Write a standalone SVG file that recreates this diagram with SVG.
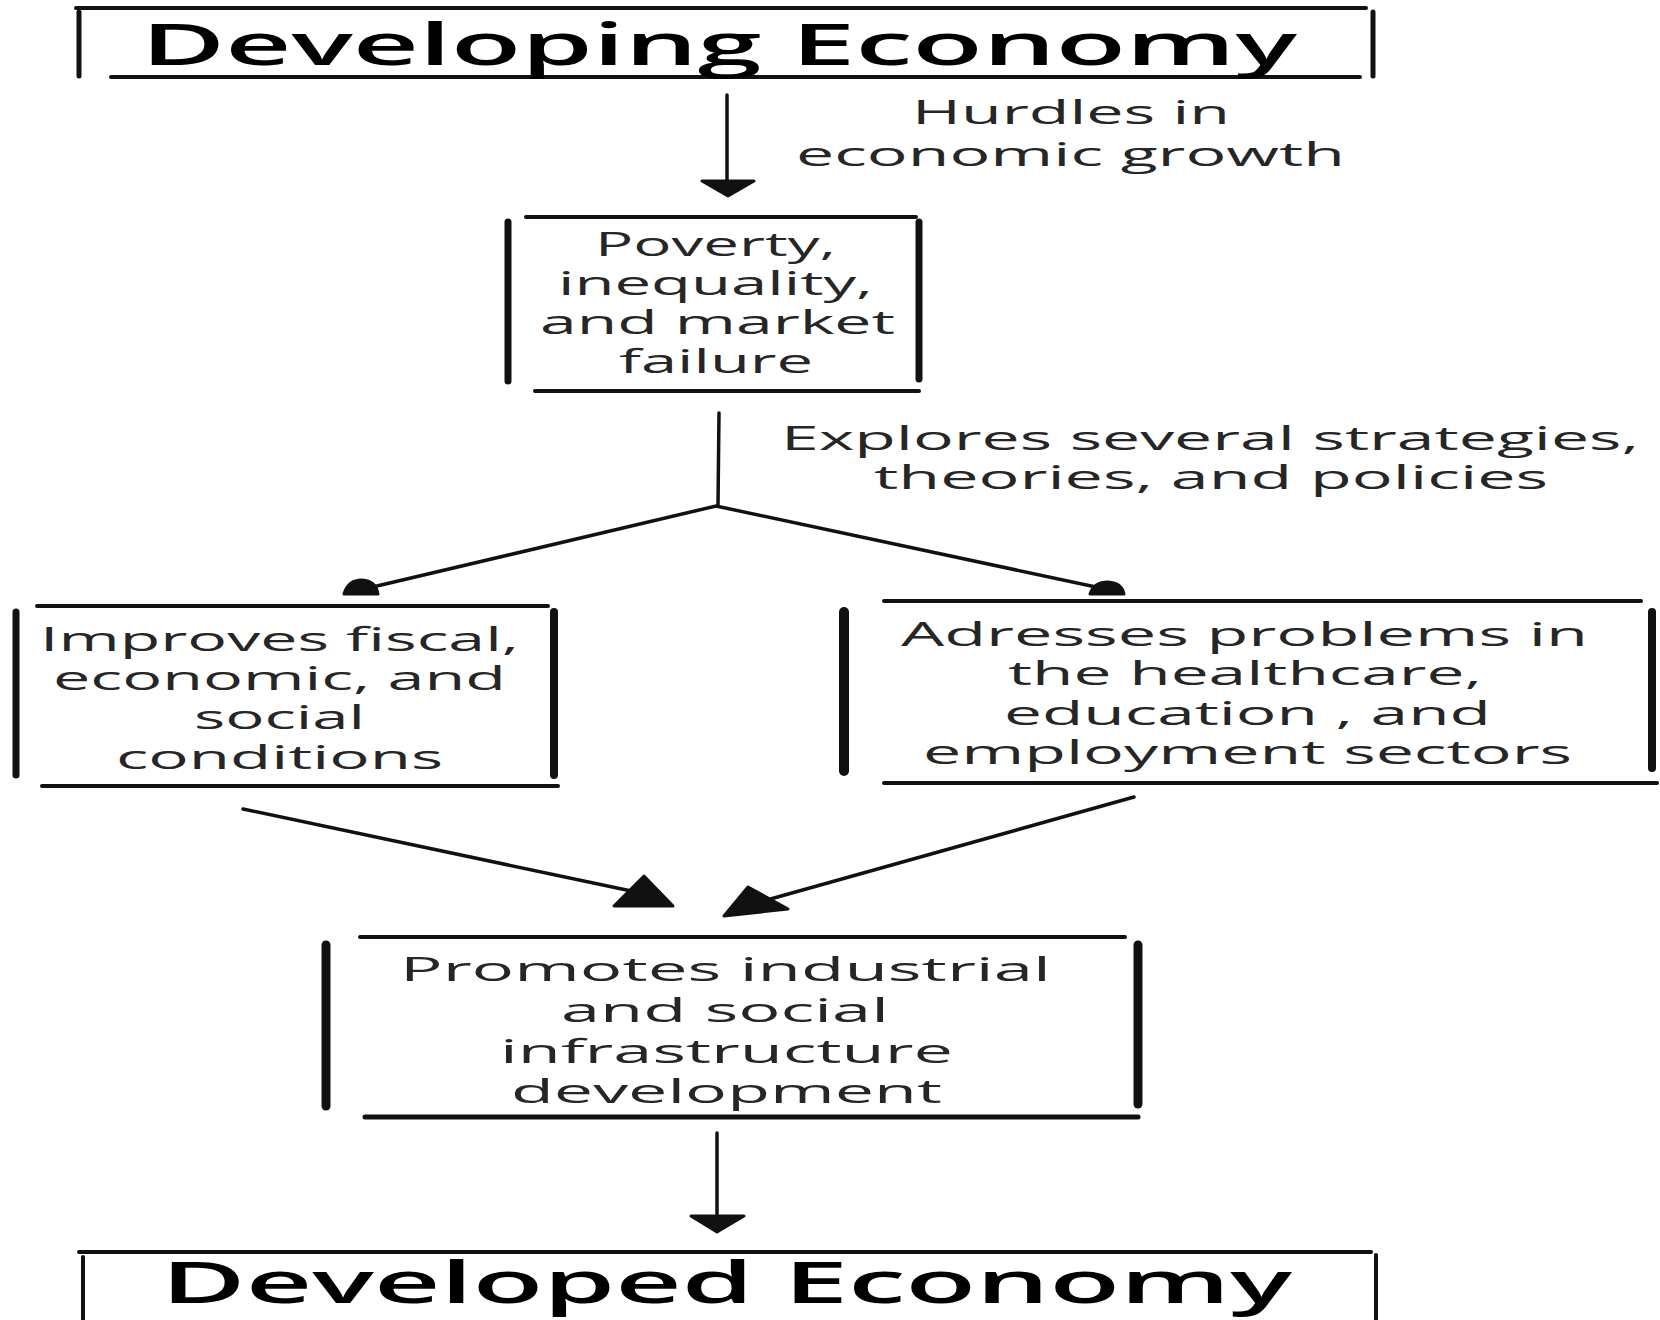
<svg xmlns="http://www.w3.org/2000/svg" width="1660" height="1320" viewBox="0 0 1660 1320">
<defs>
<style>
.h{stroke:#111;stroke-width:4;stroke-linecap:round;fill:none}
.v{stroke:#111;stroke-width:7;stroke-linecap:round;fill:none}
.c{stroke:#111;stroke-width:3.5;fill:none;stroke-linecap:round}
.t{font-family:"Open Sans","Liberation Sans",sans-serif;fill:#262626;font-size:33px;text-anchor:start}
.title{font-family:"Open Sans","Liberation Sans",sans-serif;fill:#000;font-size:57px;font-weight:600}
.hd{fill:#111;stroke:#111;stroke-width:3;stroke-linejoin:round}
</style>
</defs>
<rect width="1660" height="1320" fill="#fff"/>
<g id="connectors">
<line class="c" x1="727" y1="95" x2="727" y2="182"/>
<polygon class="hd" points="702,181 754,181 728,196"/>
<line class="c" x1="719" y1="413" x2="718" y2="505"/>
<polyline class="c" points="360,590 716,506 1110,590"/>
<path class="hd" d="M344,594 Q348,580 362,580 Q376,581 378,594 Z"/>
<path class="hd" d="M1090,594 Q1094,582 1108,582 Q1122,583 1124,594 Z"/>
<line class="c" x1="243" y1="809" x2="636" y2="892"/>
<polygon class="hd" points="614,906 673,906 644,876"/>
<line class="c" x1="1134" y1="797" x2="760" y2="902"/>
<polygon class="hd" points="724,916 788,909 748,887"/>
<line class="c" x1="717" y1="1133" x2="717" y2="1218"/>
<polygon class="hd" points="691,1216 744,1216 717,1232"/>
</g>
<g id="n1">
<line class="h" x1="76" y1="8" x2="1366" y2="8"/>
<line class="v" x1="79" y1="12" x2="79" y2="76" style="stroke-width:5"/>
<line class="v" x1="1373" y1="12" x2="1373" y2="76" style="stroke-width:5"/>
<line class="h" x1="111" y1="77" x2="1360" y2="77"/>
<text class="title" x="141" y="65" textLength="1156" lengthAdjust="spacingAndGlyphs">Developing Economy</text>
</g>
<g id="label1">
<text class="t" x="912" y="124" textLength="318" lengthAdjust="spacingAndGlyphs">Hurdles in</text>
<text class="t" x="796" y="166" textLength="549" lengthAdjust="spacingAndGlyphs">economic growth</text>
</g>
<g id="n2">
<line class="h" x1="526" y1="217" x2="916" y2="217"/>
<line class="v" x1="508" y1="222" x2="508" y2="381"/>
<line class="v" x1="919" y1="222" x2="919" y2="379"/>
<line class="h" x1="535" y1="391" x2="919" y2="391"/>
<text class="t" x="595" y="256" textLength="241" lengthAdjust="spacingAndGlyphs">Poverty,</text>
<text class="t" x="558" y="295" textLength="315" lengthAdjust="spacingAndGlyphs">inequality,</text>
<text class="t" x="540" y="334" textLength="355" lengthAdjust="spacingAndGlyphs">and market</text>
<text class="t" x="619" y="373" textLength="194" lengthAdjust="spacingAndGlyphs">failure</text>
</g>
<g id="label2">
<text class="t" x="781" y="450" textLength="858" lengthAdjust="spacingAndGlyphs">Explores several strategies,</text>
<text class="t" x="874" y="489" textLength="674" lengthAdjust="spacingAndGlyphs">theories, and policies</text>
</g>
<g id="n3">
<line class="h" x1="37" y1="606" x2="548" y2="606"/>
<line class="v" x1="16" y1="612" x2="16" y2="775"/>
<line class="v" x1="554" y1="612" x2="554" y2="775" style="stroke-width:8"/>
<line class="h" x1="42" y1="786" x2="558" y2="786"/>
<text class="t" x="40" y="651" textLength="479" lengthAdjust="spacingAndGlyphs">Improves fiscal,</text>
<text class="t" x="53" y="690" textLength="453" lengthAdjust="spacingAndGlyphs">economic, and</text>
<text class="t" x="194" y="729" textLength="171" lengthAdjust="spacingAndGlyphs">social</text>
<text class="t" x="116" y="769" textLength="327" lengthAdjust="spacingAndGlyphs">conditions</text>
</g>
<g id="n4">
<line class="h" x1="884" y1="601" x2="1641" y2="601"/>
<line class="v" x1="844" y1="612" x2="844" y2="771" style="stroke-width:10"/>
<line class="v" x1="1652" y1="612" x2="1652" y2="768" style="stroke-width:8"/>
<line class="h" x1="884" y1="783" x2="1657" y2="783"/>
<text class="t" x="901" y="646" textLength="687" lengthAdjust="spacingAndGlyphs">Adresses problems in</text>
<text class="t" x="1008" y="685" textLength="474" lengthAdjust="spacingAndGlyphs">the healthcare,</text>
<text class="t" x="1004" y="725" textLength="487" lengthAdjust="spacingAndGlyphs">education , and</text>
<text class="t" x="923" y="764" textLength="649" lengthAdjust="spacingAndGlyphs">employment sectors</text>
</g>
<g id="n5">
<line class="h" x1="360" y1="937" x2="1125" y2="937"/>
<line class="v" x1="326" y1="945" x2="326" y2="1106" style="stroke-width:9"/>
<line class="v" x1="1138" y1="945" x2="1138" y2="1104" style="stroke-width:9"/>
<line class="h" x1="365" y1="1117" x2="1138" y2="1117" style="stroke-width:5"/>
<text class="t" x="400" y="981" textLength="651" lengthAdjust="spacingAndGlyphs">Promotes industrial</text>
<text class="t" x="561" y="1022" textLength="328" lengthAdjust="spacingAndGlyphs">and social</text>
<text class="t" x="500" y="1063" textLength="453" lengthAdjust="spacingAndGlyphs">infrastructure</text>
<text class="t" x="511" y="1103" textLength="431" lengthAdjust="spacingAndGlyphs">development</text>
</g>
<g id="n6">
<line class="h" x1="79" y1="1252" x2="1371" y2="1252"/>
<line class="v" x1="83" y1="1257" x2="83" y2="1325" style="stroke-width:4"/>
<line class="v" x1="1376" y1="1255" x2="1376" y2="1325" style="stroke-width:4"/>
<text class="title" x="161" y="1303" textLength="1131" lengthAdjust="spacingAndGlyphs">Developed Economy</text>
</g>
</svg>
